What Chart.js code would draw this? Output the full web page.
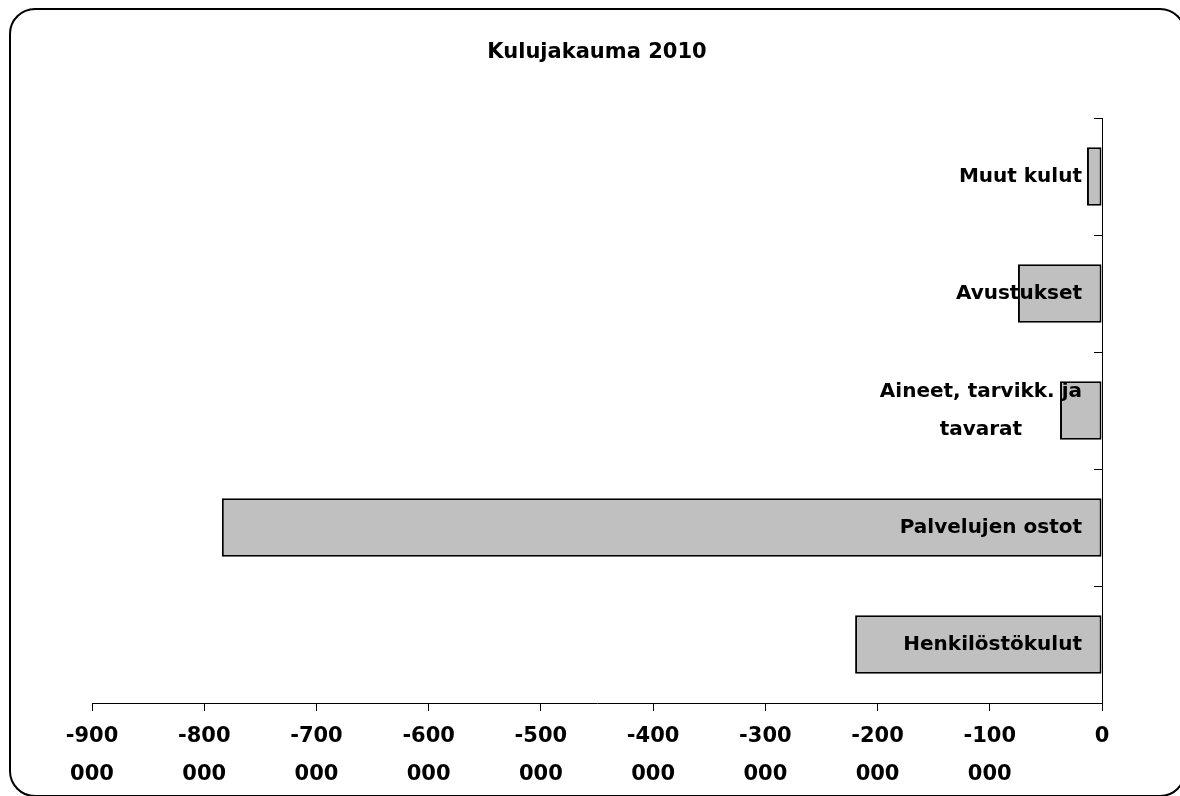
<!DOCTYPE html>
<html>
<head>
<meta charset="utf-8">
<script src="https://cdn.jsdelivr.net/npm/chart.js@4"></script>
<style>
  html, body { margin: 0; padding: 0; background: #fff; overflow: hidden; }
  #wrap { position: relative; width: 1180px; height: 796px; overflow: hidden; }
  #frame { position: absolute; left: 9px; top: 8px; width: 1173px; height: 785px;
           border: 2px solid #000; border-radius: 26px; pointer-events: none; }
  canvas { position: absolute; left: 0; top: 0; }
</style>
</head>
<body>
<div id="wrap">
  <canvas id="c" width="1180" height="796"></canvas>
  <div id="frame"></div>
</div>
<script>
const title = 'Kulujakauma 2010';
// bottom to top
const categories = ['Henkilöstökulut', 'Palvelujen ostot', 'Aineet, tarvikk. ja\ntavarat', 'Avustukset', 'Muut kulut'];
const values = [-220000, -784300, -37400, -74900, -13400];
const xMin = -900000;
const xMax = 0;
const xStep = 100000;

const FONT = '"DejaVu Sans", sans-serif';

function fmtTick(v) {
  if (v === 0) return '0';
  const s = String(Math.round(v / 1000));
  return [s, '000'];
}

const catLabelPlugin = {
  id: 'catLabels',
  afterDatasetsDraw(chart) {
    const ctx = chart.ctx;
    const ys = chart.scales.y;
    const right = chart.chartArea.right - 20;
    ctx.save();
    ctx.font = 'bold 20px ' + FONT;
    ctx.fillStyle = '#000';
    ctx.textAlign = 'center';
    ctx.textBaseline = 'middle';
    categories.forEach((lab, i) => {
      const lines = lab.split('\n');
      const w = Math.max(...lines.map(l => ctx.measureText(l).width));
      const cx = right - w / 2;
      const cy = ys.getPixelForValue(i);
      lines.forEach((l, k) => {
        ctx.fillText(l, cx, cy + (k - (lines.length - 1) / 2) * 38);
      });
    });
    ctx.restore();
  }
};

new Chart(document.getElementById('c'), {
  type: 'bar',
  data: {
    labels: categories,
    datasets: [{
      data: values,
      backgroundColor: '#c0c0c0',
      borderColor: '#000',
      borderWidth: 2,
      borderSkipped: false,
      barPercentage: 0.5,
      categoryPercentage: 1.0
    }]
  },
  options: {
    indexAxis: 'y',
    responsive: false,
    animation: false,
    devicePixelRatio: 1,
    layout: { padding: { left: 92, right: 78, top: 0, bottom: 0 } },
    plugins: {
      legend: { display: false },
      tooltip: { enabled: false },
      title: {
        display: true,
        text: title,
        color: '#000',
        font: { family: FONT, size: 21, weight: 'bold', lineHeight: 1.2 },
        padding: { top: 40, bottom: 52.8 }
      }
    },
    scales: {
      x: {
        type: 'linear',
        min: xMin,
        max: xMax,
        afterFit(s) { s.height = 93; },
        ticks: {
          stepSize: xStep,
          color: '#000',
          padding: 7,
          maxRotation: 0,
          autoSkip: false,
          font: { family: FONT, size: 21, weight: 'bold', lineHeight: 1.81 },
          callback: (v) => fmtTick(v)
        },
        grid: { drawOnChartArea: false, drawTicks: true, tickLength: 8, color: '#000', lineWidth: 1 },
        border: { display: true, color: '#000', width: 1 }
      },
      y: {
        position: 'right',
        reverse: true,
        afterFit(s) { s.width = 0; },
        ticks: { display: false },
        grid: { offset: true, drawOnChartArea: false, drawTicks: true, tickLength: -8, color: '#000', lineWidth: 1 },
        border: { display: true, color: '#000', width: 1 }
      }
    }
  },
  plugins: [catLabelPlugin]
});
</script>
</body>
</html>
